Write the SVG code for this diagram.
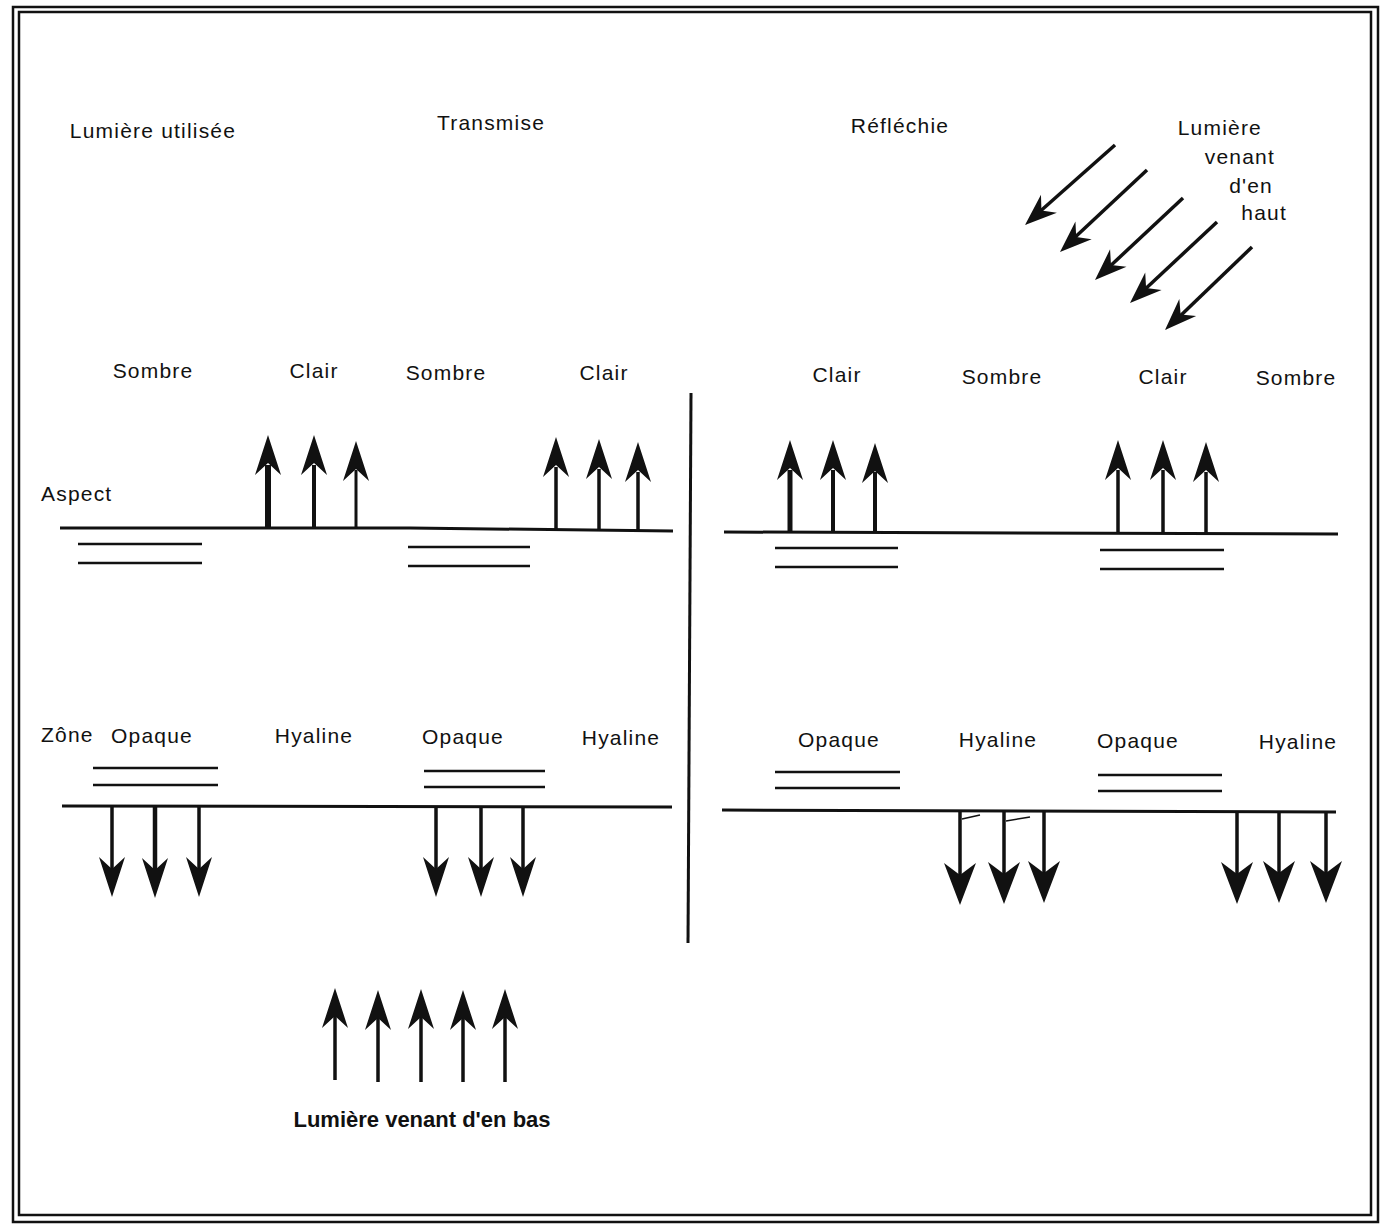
<svg xmlns="http://www.w3.org/2000/svg" xmlns:xlink="http://www.w3.org/1999/xlink" width="1393" height="1225" viewBox="0 0 1393 1225">
<style>
  .t { font-family: "Liberation Sans", Arial, sans-serif; font-size: 21px; fill: #111; letter-spacing: 1.2px; }
  .b { font-family: "Liberation Sans", Arial, sans-serif; font-size: 22px; font-weight: bold; fill: #111; }
  .ln { stroke: #111; stroke-width: 3; fill: none; }
  .thin { stroke: #111; stroke-width: 2.5; fill: none; }
  .sh { stroke: #111; stroke-width: 3.5; fill: none; }
  .hd { fill: #111; }
</style>
<defs>
  <path id="hUp" d="M0,0 L13,40 L0,28 L-13,40 Z"/>
  <path id="hBig" d="M0,0 L16,42 L0,30 L-16,42 Z"/>
  <path id="hDiag" d="M0,0 L12,32 L0,22 L-12,32 Z"/>
</defs>
<rect width="1393" height="1225" fill="#fff"/>
<g id="frame">
  <rect x="13" y="7" width="1365" height="1215" fill="none" stroke="#111" stroke-width="2.5"/>
  <rect x="19" y="12" width="1352" height="1203" fill="none" stroke="#111" stroke-width="2.5"/>
</g>
<g id="titles">
  <text class="t" x="153" y="138" text-anchor="middle">Lumière utilisée</text>
  <text class="t" x="491" y="130" text-anchor="middle">Transmise</text>
  <text class="t" x="900" y="133" text-anchor="middle">Réfléchie</text>
  <text class="t" x="1262" y="135" text-anchor="end">Lumière</text>
  <text class="t" x="1275" y="164" text-anchor="end">venant</text>
  <text class="t" x="1273" y="193" text-anchor="end">d'en</text>
  <text class="t" x="1287" y="220" text-anchor="end">haut</text>
</g>
<g id="aspect-labels">
  <text class="t" x="153" y="378" text-anchor="middle">Sombre</text>
  <text class="t" x="314" y="378" text-anchor="middle">Clair</text>
  <text class="t" x="446" y="380" text-anchor="middle">Sombre</text>
  <text class="t" x="604" y="380" text-anchor="middle">Clair</text>
  <text class="t" x="837" y="382" text-anchor="middle">Clair</text>
  <text class="t" x="1002" y="384" text-anchor="middle">Sombre</text>
  <text class="t" x="1163" y="384" text-anchor="middle">Clair</text>
  <text class="t" x="1296" y="385" text-anchor="middle">Sombre</text>
  <text class="t" x="41" y="501">Aspect</text>
</g>
<g id="zone-labels">
  <text class="t" x="41" y="742">Zône</text>
  <text class="t" x="152" y="743" text-anchor="middle">Opaque</text>
  <text class="t" x="314" y="743" text-anchor="middle">Hyaline</text>
  <text class="t" x="463" y="744" text-anchor="middle">Opaque</text>
  <text class="t" x="621" y="745" text-anchor="middle">Hyaline</text>
  <text class="t" x="839" y="747" text-anchor="middle">Opaque</text>
  <text class="t" x="998" y="747" text-anchor="middle">Hyaline</text>
  <text class="t" x="1138" y="748" text-anchor="middle">Opaque</text>
  <text class="t" x="1298" y="749" text-anchor="middle">Hyaline</text>
</g>
<g id="bottom-label">
  <text class="b" x="422" y="1127" text-anchor="middle">Lumière venant d'en bas</text>
</g>
<g id="surfaces">
  <line class="ln" x1="691" y1="393" x2="688" y2="943"/>
  <path class="ln" d="M60,528 L410,528 L673,531"/>
  <line class="ln" x1="724" y1="532" x2="1338" y2="534"/>
  <line class="ln" x1="62" y1="806" x2="672" y2="807"/>
  <line class="ln" x1="722" y1="810" x2="1336" y2="812"/>
  <line class="thin" x1="78" y1="544" x2="202" y2="544"/>
  <line class="thin" x1="78" y1="563" x2="202" y2="563"/>
  <line class="thin" x1="408" y1="547" x2="530" y2="547"/>
  <line class="thin" x1="408" y1="566" x2="530" y2="566"/>
  <line class="thin" x1="775" y1="548" x2="898" y2="548"/>
  <line class="thin" x1="775" y1="567" x2="898" y2="567"/>
  <line class="thin" x1="1100" y1="550" x2="1224" y2="550"/>
  <line class="thin" x1="1100" y1="569" x2="1224" y2="569"/>
  <line class="thin" x1="93" y1="768" x2="218" y2="768"/>
  <line class="thin" x1="93" y1="785" x2="218" y2="785"/>
  <line class="thin" x1="424" y1="771" x2="545" y2="771"/>
  <line class="thin" x1="424" y1="787" x2="545" y2="787"/>
  <line class="thin" x1="775" y1="772" x2="900" y2="772"/>
  <line class="thin" x1="775" y1="788" x2="900" y2="788"/>
  <line class="thin" x1="1098" y1="775" x2="1222" y2="775"/>
  <line class="thin" x1="1098" y1="791" x2="1222" y2="791"/>
  <line stroke="#111" stroke-width="1.5" x1="962" y1="819" x2="980" y2="815"/>
  <line stroke="#111" stroke-width="1.5" x1="1006" y1="821" x2="1030" y2="817"/>
</g>
<g id="connectors">
  <g class="sh">
    <line x1="1115" y1="145" x2="1036" y2="215"/>
    <line x1="1147" y1="170" x2="1071" y2="241"/>
    <line x1="1183" y1="198" x2="1106" y2="270"/>
    <line x1="1217" y1="222" x2="1141" y2="293"/>
    <line x1="1252" y1="247" x2="1176" y2="320"/>
  </g>
  <g class="hd">
    <use xlink:href="#hDiag" transform="translate(1025,225) rotate(228.4)"/>
    <use xlink:href="#hDiag" transform="translate(1060,252) rotate(227.4)"/>
    <use xlink:href="#hDiag" transform="translate(1095,280) rotate(226.7)"/>
    <use xlink:href="#hDiag" transform="translate(1130,303) rotate(227)"/>
    <use xlink:href="#hDiag" transform="translate(1165,330) rotate(225.3)"/>
  </g>
  <g class="sh">
    <line x1="268" y1="528" x2="268" y2="465" stroke-width="6"/>
    <line x1="314" y1="528" x2="314" y2="465" stroke-width="4"/>
    <line x1="356" y1="528" x2="356" y2="470" stroke-width="3"/>
    <line x1="556" y1="531" x2="556" y2="467"/>
    <line x1="599" y1="531" x2="599" y2="469"/>
    <line x1="638" y1="531" x2="638" y2="472"/>
    <line x1="790" y1="532" x2="790" y2="470" stroke-width="5"/>
    <line x1="833" y1="532" x2="833" y2="470" stroke-width="4"/>
    <line x1="875" y1="533" x2="875" y2="472" stroke-width="4"/>
    <line x1="1118" y1="533" x2="1118" y2="470"/>
    <line x1="1163" y1="533" x2="1163" y2="470"/>
    <line x1="1206" y1="534" x2="1206" y2="472"/>
  </g>
  <g class="hd">
    <use xlink:href="#hUp" x="268" y="435"/>
    <use xlink:href="#hUp" x="314" y="435"/>
    <use xlink:href="#hUp" x="356" y="441"/>
    <use xlink:href="#hUp" x="556" y="437"/>
    <use xlink:href="#hUp" x="599" y="439"/>
    <use xlink:href="#hUp" x="638" y="442"/>
    <use xlink:href="#hUp" x="790" y="440"/>
    <use xlink:href="#hUp" x="833" y="440"/>
    <use xlink:href="#hUp" x="875" y="443"/>
    <use xlink:href="#hUp" x="1118" y="440"/>
    <use xlink:href="#hUp" x="1163" y="440"/>
    <use xlink:href="#hUp" x="1206" y="442"/>
  </g>
  <g class="sh">
    <line x1="112" y1="806" x2="112" y2="870"/>
    <line x1="155" y1="806" x2="155" y2="870" stroke-width="4.5"/>
    <line x1="199" y1="806" x2="199" y2="870"/>
    <line x1="436" y1="807" x2="436" y2="870"/>
    <line x1="481" y1="807" x2="481" y2="870"/>
    <line x1="523" y1="807" x2="523" y2="870"/>
    <line x1="960" y1="810" x2="960" y2="876"/>
    <line x1="1004" y1="810" x2="1004" y2="876"/>
    <line x1="1044" y1="811" x2="1044" y2="876"/>
    <line x1="1237" y1="811" x2="1237" y2="876"/>
    <line x1="1279" y1="811" x2="1279" y2="876"/>
    <line x1="1326" y1="812" x2="1326" y2="876"/>
  </g>
  <g class="hd">
    <use xlink:href="#hUp" transform="translate(112,897) rotate(180)"/>
    <use xlink:href="#hUp" transform="translate(155,898) rotate(180)"/>
    <use xlink:href="#hUp" transform="translate(199,897) rotate(180)"/>
    <use xlink:href="#hUp" transform="translate(436,897) rotate(180)"/>
    <use xlink:href="#hUp" transform="translate(481,897) rotate(180)"/>
    <use xlink:href="#hUp" transform="translate(523,897) rotate(180)"/>
    <use xlink:href="#hBig" transform="translate(960,905) rotate(180)"/>
    <use xlink:href="#hBig" transform="translate(1004,904) rotate(180)"/>
    <use xlink:href="#hBig" transform="translate(1044,903) rotate(180)"/>
    <use xlink:href="#hBig" transform="translate(1237,904) rotate(180)"/>
    <use xlink:href="#hBig" transform="translate(1279,903) rotate(180)"/>
    <use xlink:href="#hBig" transform="translate(1326,903) rotate(180)"/>
  </g>
  <g class="sh">
    <line x1="335" y1="1080" x2="335" y2="1015"/>
    <line x1="378" y1="1082" x2="378" y2="1015"/>
    <line x1="421" y1="1082" x2="421" y2="1015"/>
    <line x1="463" y1="1082" x2="463" y2="1015"/>
    <line x1="505" y1="1082" x2="505" y2="1015"/>
  </g>
  <g class="hd">
    <use xlink:href="#hUp" x="335" y="988"/>
    <use xlink:href="#hUp" x="378" y="990"/>
    <use xlink:href="#hUp" x="421" y="989"/>
    <use xlink:href="#hUp" x="463" y="990"/>
    <use xlink:href="#hUp" x="505" y="989"/>
  </g>
</g>
</svg>
